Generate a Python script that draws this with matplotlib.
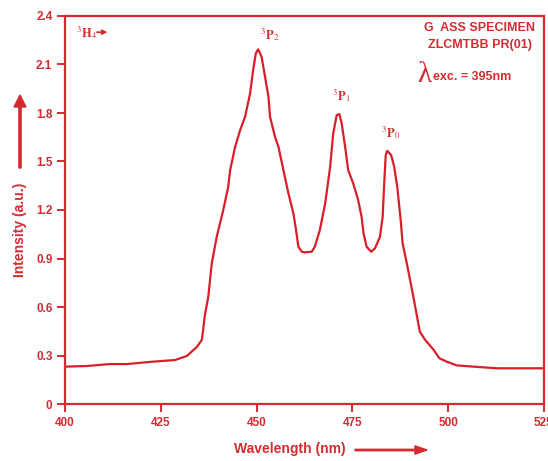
import matplotlib
matplotlib.use("Agg")
from matplotlib import pyplot as plt

# emission-like excitation curve
wavelength = [400.0, 405.7, 411.7, 416.1, 423.0, 428.7, 431.8, 434.4, 435.7, 436.1,
              436.5, 437.4, 438.3, 439.6, 441.3, 442.6, 443.1, 444.4, 445.7, 447.0,
              448.3, 449.1, 449.8, 450.4, 451.3, 452.2, 453.1, 453.5, 454.8, 455.7,
              457.0, 458.3, 459.6, 460.3, 460.9, 461.8, 462.6, 464.4, 465.2, 466.5,
              467.9, 469.2, 470.0, 470.9, 471.6, 472.2, 473.1, 473.9, 475.2, 476.5,
              477.4, 477.9, 478.7, 479.9, 480.9, 482.2, 482.9, 483.3, 483.7, 484.1,
              485.1, 485.9, 486.7, 487.6, 488.1, 489.2, 490.9, 492.6, 494.0, 496.1,
              497.7, 499.6, 502.2, 506.6, 512.7, 524.8]
intensity = [0.231, 0.235, 0.247, 0.247, 0.262, 0.272, 0.297, 0.353, 0.396, 0.468,
             0.550, 0.664, 0.870, 1.035, 1.200, 1.344, 1.447, 1.591, 1.694, 1.777,
             1.921, 2.066, 2.169, 2.194, 2.148, 2.024, 1.900, 1.777, 1.653, 1.591,
             1.447, 1.303, 1.179, 1.076, 0.973, 0.942, 0.938, 0.942, 0.973, 1.076,
             1.241, 1.468, 1.674, 1.787, 1.793, 1.736, 1.591, 1.447, 1.365, 1.262,
             1.158, 1.056, 0.973, 0.942, 0.963, 1.035, 1.158, 1.365, 1.540, 1.566,
             1.540, 1.468, 1.344, 1.138, 0.994, 0.870, 0.664, 0.447, 0.396, 0.338,
             0.283, 0.262, 0.239, 0.231, 0.221, 0.221]

xticks = [400, 425, 450, 475, 500, 525]
yticks = [0, 0.3, 0.6, 0.9, 1.2, 1.5, 1.8, 2.1, 2.4]
ytick_labels = ["0", "0.3", "0.6", "0.9", "1.2", "1.5", "1.8", "2.1", "2.4"]

peaks = [(r"$^{3}\mathbf{P}_{2}$", 453.4, 2.235), (r"$^{3}\mathbf{P}_{1}$", 472.0, 1.855),
         (r"$^{3}\mathbf{P}_{0}$", 485.0, 1.625)]

red = "#d42b30"
line_red = "#d81e28"

plt.rcParams["font.family"] = ["Liberation Sans", "DejaVu Sans"]
plt.rcParams["mathtext.fontset"] = "stix"

fig = plt.figure(figsize=(5.48, 4.61), dpi=100)
ax = fig.add_axes([65 / 548, 1 - 404 / 461, 479 / 548, 388 / 461])

ax.plot(wavelength, intensity, color=line_red, lw=1.6)

ax.set_xlim(400, 525)
ax.set_ylim(0, 2.4)
ax.set_xticks(xticks)
ax.set_yticks(yticks)
ax.set_yticklabels(ytick_labels)

for s in ax.spines.values():
    s.set_color(red)
    s.set_linewidth(1.6)
ax.tick_params(colors=red, width=1.4, length=6, labelsize=8.5, pad=3)
for lab in ax.get_xticklabels() + ax.get_yticklabels():
    lab.set_fontweight("bold")

# axis titles with arrows
fig.text(290 / 548, 1 - 449 / 461, "Wavelength (nm)", color=red, fontsize=10,
         fontweight="bold", ha="center", va="center")
fig.patches.append(matplotlib.patches.FancyArrow(
    355 / 548, 1 - 450 / 461, 72 / 548, 0, width=0.003, head_width=0.018,
    head_length=0.022, length_includes_head=True, color=red, transform=fig.transFigure))
fig.text(20 / 548, 1 - 230 / 461, "Intensity (a.u.)", color=red, fontsize=10,
         fontweight="bold", ha="center", va="center", rotation=90)
fig.patches.append(matplotlib.patches.FancyArrow(
    20 / 548, 1 - 168 / 461, 0, 73 / 461, width=0.004, head_width=0.022,
    head_length=0.026, length_includes_head=True, color=red, transform=fig.transFigure))

# level labels
ax.text(403, 2.3, r"$^{3}\mathbf{H}_{4}$", color=red, fontsize=9, va="center")
ax.annotate("", xy=(411.8, 2.3), xytext=(407.6, 2.3),
            arrowprops=dict(arrowstyle="-|>", color=red, lw=1.2, mutation_scale=7))
for lab, x, y in peaks:
    ax.text(x, y, lab, color=red, fontsize=9, ha="center", va="bottom")

# specimen info
fig.text(480 / 548, 1 - 28 / 461, "G  ASS SPECIMEN", color=red, fontsize=9,
         fontweight="bold", ha="center", va="center")
fig.text(480 / 548, 1 - 45 / 461, "ZLCMTBB PR(01)", color=red, fontsize=9,
         fontweight="bold", ha="center", va="center")
fig.text(417 / 548, 1 - 75 / 461, "λ", color=red, fontsize=21, family="Liberation Serif",
         ha="left", va="center")
fig.text(433 / 548, 1 - 77 / 461, "exc. = 395nm", color=red, fontsize=9,
         fontweight="bold", ha="left", va="center")

fig.savefig("out.png", dpi=100)
